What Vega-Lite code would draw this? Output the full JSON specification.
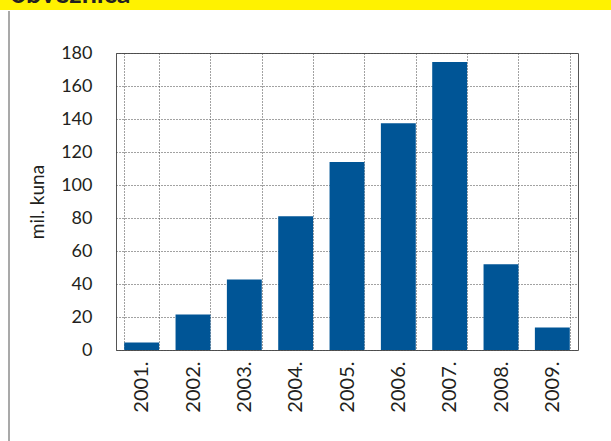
{
  "$schema": "https://vega.github.io/schema/vega-lite/v6.json",
  "padding": 0,
  "background": "white",
  "config": {
    "font": "Lato",
    "concat": {"spacing": 0}
  },
  "datasets": {
    "header": [{"label": "obveznica"}],
    "frame": [{"v": 0}],
    "bars": [
      {"year": "2001.", "value": 4.5},
      {"year": "2002.", "value": 21.5},
      {"year": "2003.", "value": 42.7},
      {"year": "2004.", "value": 81.1},
      {"year": "2005.", "value": 114},
      {"year": "2006.", "value": 137.5},
      {"year": "2007.", "value": 174.5},
      {"year": "2008.", "value": 51.9},
      {"year": "2009.", "value": 13.6}
    ]
  },
  "spacing": 0,
  "vconcat": [
    {
      "width": 611,
      "height": 10,
      "view": {"fill": "#FFF200", "stroke": null},
      "data": {"name": "header"},
      "mark": {"type": "text", "align": "left", "baseline": "alphabetic", "dx": -295, "dy": -2, "fontSize": 27, "fontWeight": "bold", "color": "#231f20", "clip": true},
      "encoding": {"text": {"field": "label", "type": "nominal"}}
    },
    {
      "spacing": 0,
      "hconcat": [
        {
          "width": 9,
          "height": 389,
          "view": {"stroke": null},
          "data": {"name": "frame"},
          "mark": {"type": "rule", "color": "#8c8c8c", "strokeWidth": 1.5, "yOffset": -42, "clip": false},
          "encoding": {
            "x": {"field": "v", "type": "quantitative", "scale": {"domain": [-1, 0]}, "axis": null}
          }
        },
        {
          "width": 462,
          "height": 297,
          "title": {"text": " ", "fontSize": 10, "offset": 21, "anchor": "start", "frame": "group", "dx": -105.5},
          "view": {"stroke": "#555555", "strokeWidth": 1},
          "data": {"name": "bars"},
          "mark": {"type": "bar", "color": "#005596"},
          "encoding": {
            "x": {
              "field": "year", "type": "nominal", "sort": null,
              "scale": {"paddingInner": 0.32, "paddingOuter": 0.16},
              "axis": {"title": null, "labelAngle": -90, "labelFontSize": 20, "labelColor": "#231f20", "labelPadding": 11, "ticks": false, "domain": false, "grid": true, "tickBand": "extent", "gridColor": "#444444", "gridDash": [1, 2], "gridWidth": 1}
            },
            "y": {
              "field": "value", "type": "quantitative",
              "scale": {"domain": [0, 180], "nice": false},
              "axis": {"title": "mil. kuna", "titleFontSize": 19, "titleFontWeight": "normal", "titleColor": "#231f20", "titlePadding": 13, "values": [0, 20, 40, 60, 80, 100, 120, 140, 160, 180], "labelFontSize": 18, "labelColor": "#231f20", "labelPadding": 24, "ticks": false, "tickSize": 0, "domain": false, "grid": true, "gridColor": "#444444", "gridDash": [1, 2], "gridWidth": 1}
            }
          }
        }
      ]
    }
  ]
}
